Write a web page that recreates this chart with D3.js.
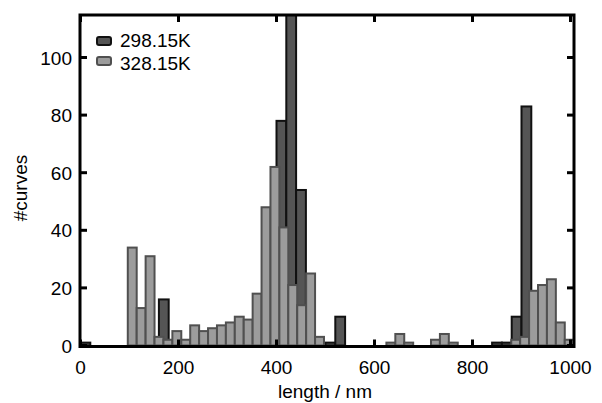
<!DOCTYPE html>
<html>
<head>
<meta charset="utf-8">
<script src="https://cdn.jsdelivr.net/npm/d3@7"></script>
<style>
  body { margin: 0; background: #fff; }
  text { font-family: "Liberation Sans", Arial, sans-serif; fill: #000; }
</style>
</head>
<body>
<div id="chart"></div>
<script>
// histogram counts
// 298.15K : bins of 20 nm starting at 0
const darkBinWidth = 20;
const darkCounts = [
  1, 0, 0, 0, 0, 0, 0, 0, 16, 0,      // 0 - 200
  0, 0, 0, 0, 0, 0, 0, 0, 0, 0,       // 200 - 400
  78, 118, 54, 0, 0, 1, 10, 0, 0, 0,  // 400 - 600
  0, 0, 0, 0, 0, 0, 0, 0, 0, 0,       // 600 - 800
  0, 0, 1, 1, 10, 83, 0, 0, 0, 0      // 800 - 1000
];
// 328.15K : narrower bins starting just under 100 nm
const lightBinStart = 96.5;
const lightBinWidth = 18.2;
const lightCounts = [
  34, 13, 31, 3, 2, 5, 2, 7, 5, 6,
  7, 8, 10, 9, 18, 48, 62, 41, 21, 14,
  25, 3, 0, 0, 0, 0, 0, 0, 0, 1,
  4, 1, 0, 0, 2, 4, 1, 0, 0, 0,
  0, 0, 0, 2, 3, 19, 21, 23, 8, 2
];
const seriesNames = ["298.15K", "328.15K"];
const xTicks = [0, 200, 400, 600, 800, 1000];
const yTicks = [0, 20, 40, 60, 80, 100];

const width = 602, height = 403;
const frame = { left: 80, right: 574, top: 15, bottom: 346.5 };

const x = d3.scaleLinear().domain([0, 1000]).range([80.5, 570.5]);
const y = d3.scaleLinear().domain([0, 100]).range([345.5, 57.5]);

const svg = d3.select("#chart").append("svg")
  .attr("width", width)
  .attr("height", height);

svg.append("clipPath").attr("id", "plotclip")
  .append("rect")
  .attr("x", frame.left).attr("y", frame.top)
  .attr("width", frame.right - frame.left)
  .attr("height", frame.bottom - frame.top);

const plot = svg.append("g").attr("clip-path", "url(#plotclip)");

// dark series first, light series drawn over it
plot.selectAll("rect.dark")
  .data(darkCounts)
  .enter().append("rect")
  .attr("class", "dark")
  .attr("x", (d, i) => x(i * darkBinWidth))
  .attr("width", x(darkBinWidth) - x(0))
  .attr("y", d => y(d))
  .attr("height", d => y(0) - y(d))
  .attr("fill", "#555")
  .attr("stroke", "#111")
  .attr("stroke-width", 2);

plot.selectAll("rect.light")
  .data(lightCounts)
  .enter().append("rect")
  .attr("class", "light")
  .attr("x", (d, i) => x(lightBinStart + i * lightBinWidth))
  .attr("width", x(lightBinWidth) - x(0))
  .attr("y", d => y(d))
  .attr("height", d => y(0) - y(d))
  .attr("fill", "#9c9c9c")
  .attr("stroke", "#505050")
  .attr("stroke-width", 2);

// axes: ticks on all four sides pointing inward
const tickLen = 7;
const axes = svg.append("g")
  .attr("stroke", "#000")
  .attr("stroke-width", 3);

xTicks.forEach(t => {
  axes.append("line")
    .attr("x1", x(t)).attr("x2", x(t))
    .attr("y1", frame.bottom).attr("y2", frame.bottom - tickLen);
  axes.append("line")
    .attr("x1", x(t)).attr("x2", x(t))
    .attr("y1", frame.top).attr("y2", frame.top + tickLen);
});
yTicks.forEach(t => {
  axes.append("line")
    .attr("x1", frame.left).attr("x2", frame.left + tickLen)
    .attr("y1", y(t)).attr("y2", y(t));
  axes.append("line")
    .attr("x1", frame.right).attr("x2", frame.right - tickLen)
    .attr("y1", y(t)).attr("y2", y(t));
});

svg.append("rect")
  .attr("x", frame.left).attr("y", frame.top)
  .attr("width", frame.right - frame.left)
  .attr("height", frame.bottom - frame.top)
  .attr("fill", "none")
  .attr("stroke", "#000")
  .attr("stroke-width", 3);

// tick labels
svg.selectAll("text.xt")
  .data(xTicks)
  .enter().append("text")
  .attr("x", d => x(d))
  .attr("y", 374)
  .attr("text-anchor", "middle")
  .style("font-size", "19px")
  .text(d => d);

svg.selectAll("text.yt")
  .data(yTicks)
  .enter().append("text")
  .attr("x", 72)
  .attr("y", d => y(d) + 7)
  .attr("text-anchor", "end")
  .style("font-size", "19px")
  .text(d => d);

svg.append("text")
  .attr("x", 325)
  .attr("y", 398)
  .attr("text-anchor", "middle")
  .style("font-size", "19px")
  .text("length / nm");

svg.append("text")
  .attr("transform", "translate(27,188) rotate(-90)")
  .attr("text-anchor", "middle")
  .style("font-size", "19px")
  .text("#curves");

// legend
const legend = svg.append("g");
const legendFill = ["#555", "#9c9c9c"];
const legendStroke = ["#111", "#505050"];
seriesNames.forEach((name, i) => {
  legend.append("rect")
    .attr("x", 97).attr("y", 37 + i * 20)
    .attr("width", 14).attr("height", 8)
    .attr("rx", 2)
    .attr("fill", legendFill[i])
    .attr("stroke", legendStroke[i])
    .attr("stroke-width", 2);
  legend.append("text")
    .attr("x", 120).attr("y", 47 + i * 23)
    .style("font-size", "19px")
    .text(name);
});
</script>
</body>
</html>
